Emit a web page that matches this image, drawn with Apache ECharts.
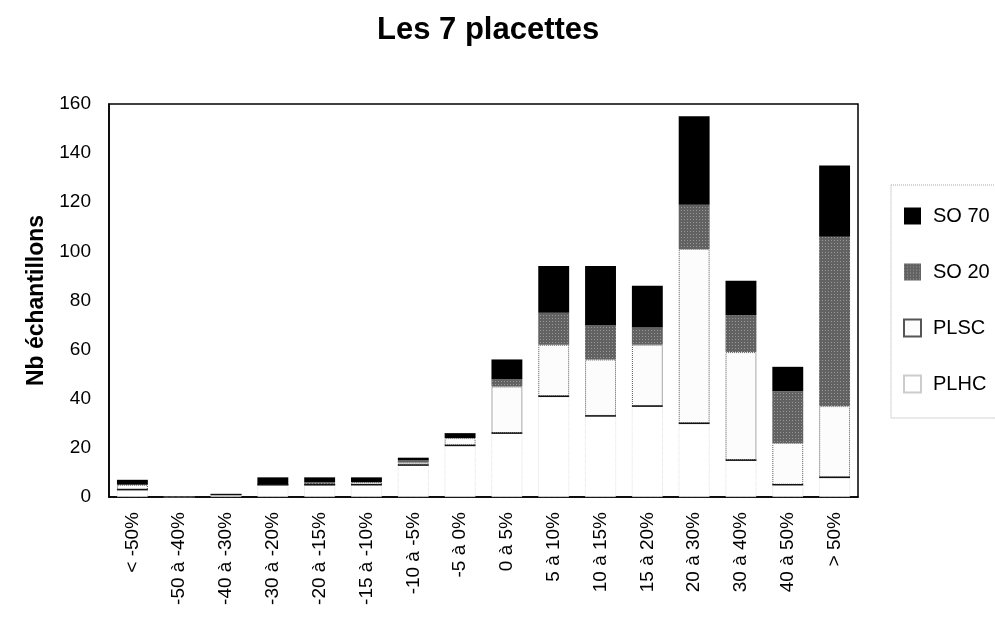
<!DOCTYPE html>
<html>
<head>
<meta charset="utf-8">
<script src="https://cdn.jsdelivr.net/npm/echarts@6/dist/echarts.min.js"></script>
<style>
  html, body { margin: 0; padding: 0; background: #fff; }
  #chart { width: 995px; height: 619px; }
</style>
</head>
<body>
<div id="chart"></div>
<script>
// classes of variation
var categories = ['< -50%', '-50 à -40%', '-40 à -30%', '-30 à -20%', '-20 à -15%', '-15 à -10%',
  '-10 à -5%', '-5 à 0%', '0 à 5%', '5 à 10%', '10 à 15%', '15 à 20%', '20 à 30%',
  '30 à 40%', '40 à 50%', '> 50%'];

// stacked from bottom to top
var plhc = [3, 0, 1, 5, 5, 5, 13, 21, 26, 41, 33, 37, 30, 15, 5, 8];
var plsc = [2, 0, 0, 0, 0, 1, 1, 3, 19, 21, 23, 25, 71, 44, 17, 29];
var so20 = [0, 0, 0, 0, 1, 0, 1, 0, 3, 13, 14, 7, 18, 15, 21, 69];
var so70 = [2, 0, 0, 3, 2, 2, 1, 2, 8, 19, 24, 17, 36, 14, 10, 29];

var yTicks = [0, 20, 40, 60, 80, 100, 120, 140, 160];

var font = 'Liberation Sans, Arial, sans-serif';
var barPct = 0.66;
var chart = echarts.init(document.getElementById('chart'), null, { renderer: 'canvas' });

chart.setOption({
  animation: false,
  backgroundColor: '#fff',
  title: {
    text: 'Les 7 placettes',
    left: 372,
    top: 10,
    textStyle: { fontFamily: font, fontSize: 31, fontWeight: 'bold', color: '#000' }
  },
  legend: {
    orient: 'vertical',
    left: 891,
    top: 185,
    padding: [21, 6, 24, 12],
    itemGap: 36,
    itemWidth: 17,
    itemHeight: 17,
    icon: 'rect',
    borderColor: '#aaa',
    borderWidth: 1,
    borderType: 'dotted',
    data: ['SO 70', 'SO 20', 'PLSC', 'PLHC'],
    textStyle: { fontFamily: font, fontSize: 20, color: '#000', padding: [0, 0, 0, 7] }
  },
  grid: {
    left: 109, right: 137, top: 104, bottom: 122,
    show: true, borderColor: '#000', borderWidth: 1.5
  },
  xAxis: {
    type: 'category',
    data: categories,
    axisLine: { lineStyle: { color: '#000', width: 1.5 } },
    axisTick: { show: false },
    axisLabel: { rotate: 90, margin: 15, fontFamily: font, fontSize: 19, color: '#000' }
  },
  yAxis: {
    type: 'value',
    min: yTicks[0],
    max: yTicks[yTicks.length - 1],
    interval: 20,
    name: 'Nb échantillons',
    nameLocation: 'middle',
    nameGap: 56,
    nameTextStyle: { fontFamily: font, fontSize: 23, fontWeight: 'bold', color: '#000' },
    axisLine: { show: true, lineStyle: { color: '#000', width: 1.5 } },
    axisTick: { show: false },
    splitLine: { show: false },
    axisLabel: { margin: 18, fontFamily: font, fontSize: 19, color: '#000' }
  },
  series: [
    {
      name: 'PLHC', type: 'bar', stack: 'total', data: plhc, barWidth: (barPct * 100) + '%',
      itemStyle: { color: '#fff', borderColor: '#ccc', borderWidth: 0.6, borderType: 'dotted' }
    },
    {
      name: 'PLSC', type: 'bar', stack: 'total', data: plsc,
      itemStyle: { color: '#fcfcfc', borderColor: '#555', borderWidth: 1, borderType: 'dotted' }
    },
    {
      name: 'SO 20', type: 'bar', stack: 'total', data: so20,
      itemStyle: {
        color: '#626262',
        decal: { symbol: 'rect', symbolSize: 1, dashArrayX: [1, 2], dashArrayY: [1, 2], color: 'rgba(255,255,255,0.35)', rotation: 0 }
      }
    },
    {
      name: 'SO 70', type: 'bar', stack: 'total', data: so70,
      itemStyle: { color: '#000' }
    },
    {
      // solid edge between PLHC and PLSC
      name: 'edge', type: 'custom', silent: true, z: 3,
      data: plhc.map(function (v, i) { return [i, v]; }),
      renderItem: function (params, api) {
        var v = api.value(1);
        if (!v) return null;
        var p = api.coord([api.value(0), v]);
        var w = api.size([1, 0])[0] * barPct;
        return {
          type: 'line',
          shape: { x1: p[0] - w / 2, y1: p[1], x2: p[0] + w / 2, y2: p[1] },
          style: { stroke: '#111', lineWidth: 1.5 }
        };
      }
    }
  ]
});
</script>
</body>
</html>
